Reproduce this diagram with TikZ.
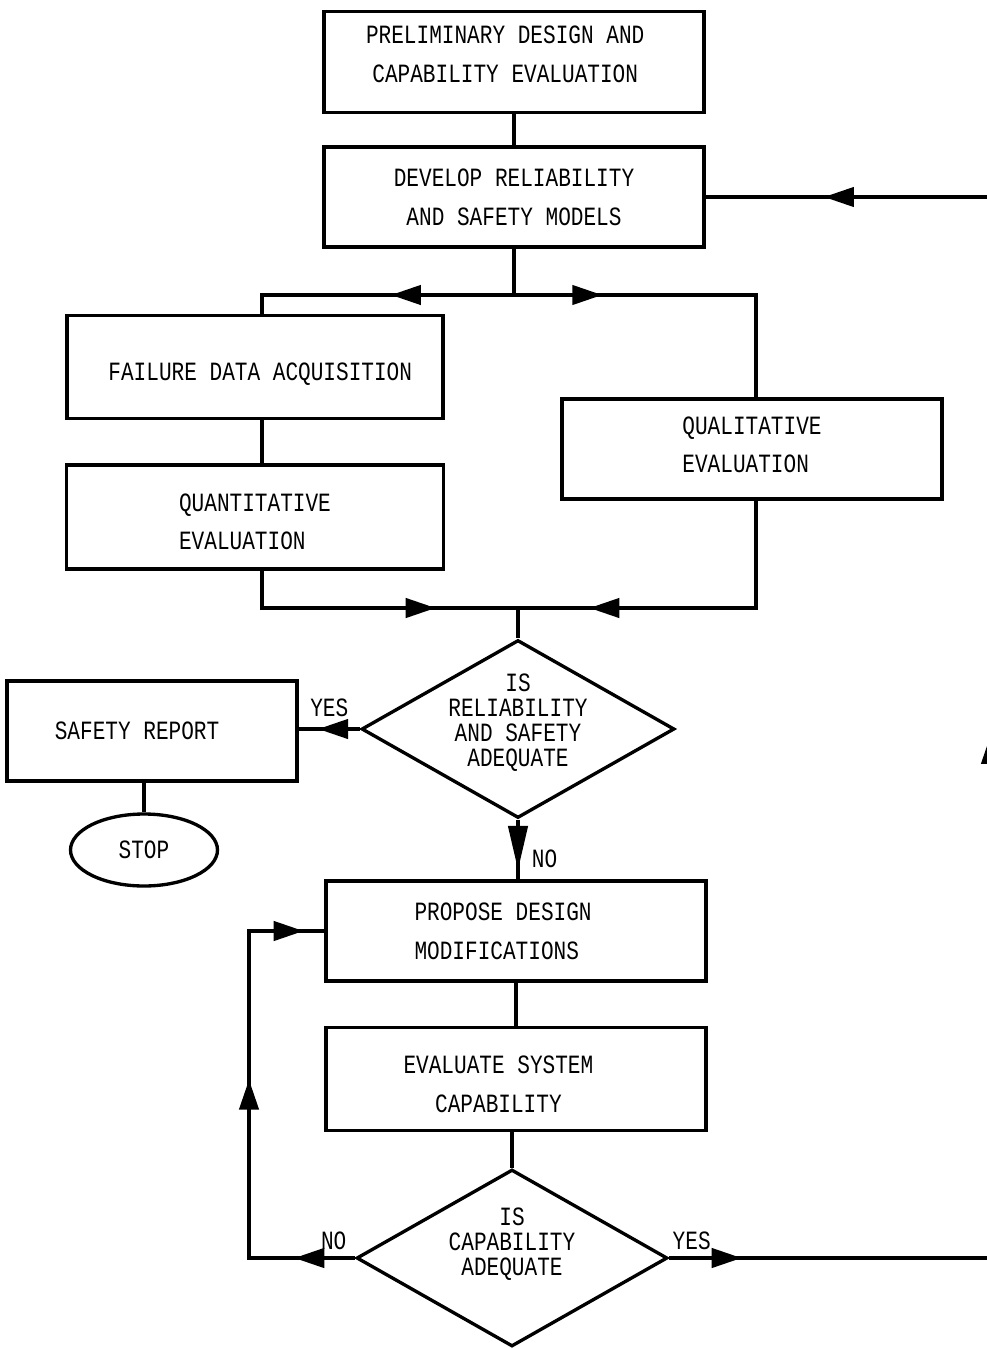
\documentclass[tikz,border=0pt]{standalone}
\usepackage{fontspec}
\newfontfamily\flowfont[FakeStretch=0.8]{Liberation Mono}
\usetikzlibrary{shapes.geometric}
\usetikzlibrary{arrows.meta}
\usetikzlibrary{decorations.markings}

\begin{document}
\begin{tikzpicture}[x=0.02cm, y=-0.02cm,
		b/.style = {rectangle, draw, line width=1.9pt, minimum width=7.6cm, minimum height=2cm, align=center, font=\flowfont\fontsize{15}{22}\selectfont},
		d/.style = {diamond, draw, line width=1.9pt, aspect=1.76, inner sep=-8pt, align=center, font=\flowfont\fontsize{15}{14.2}\selectfont},
		e/.style = {ellipse, draw, line width=1.9pt, font=\flowfont\fontsize{15}{22}\selectfont},
		lab/.style = {font=\flowfont\fontsize{15}{18}\selectfont, inner sep=2pt},
		r/.style = {line width=1.9pt},
		mk/.style = {postaction={decorate, decoration={markings, mark=at position #1 with {\arrow{Triangle[length=17pt, width=11pt]}}}}},
		mkl/.style = {postaction={decorate, decoration={markings, mark=at position #1 with {\arrow{Triangle[length=25pt, width=11pt]}}}}}
		]
		\useasboundingbox (0,0) rectangle (987,1349);
		
		%Nodes
		\node[b, minimum height=2.02cm, text depth=9pt]	(pre)	at	(514, 62)	{PRELIMINARY DESIGN AND\hspace*{10pt}\\CAPABILITY EVALUATION\hspace*{10pt}};
		\node[b]	(dev)	at	(514, 197)	{DEVELOP RELIABILITY\\AND SAFETY MODELS};
		\node[b, minimum width=7.52cm, minimum height=2.06cm, text height=18pt]	(fda)	at	(255, 367)	{\hspace*{6pt}FAILURE DATA ACQUISITION};
		\node[b, minimum width=7.54cm, minimum height=2.08cm, align=left]	(quan)	at	(255, 517)	{\rule{0pt}{15.6pt}QUANTITATIVE\\EVALUATION};
		\node[b, align=left, text depth=5pt]	(qual)	at	(752, 449)	{QUALITATIVE\\EVALUATION};
		\node[d, minimum width=6.26cm, minimum height=3.56cm, text depth=10pt]	(dia1)	at	(518, 729)	{IS\\RELIABILITY\\AND SAFETY\\ADEQUATE};
		\node[b, minimum width=5.8cm]	(rep)	at	(152, 731)	{SAFETY REPORT\hspace*{17pt}};
		\node[e, minimum width=2.94cm, minimum height=1.44cm]	(stop)	at	(144, 850)	{STOP};
		\node[b, align=left]	(prop)	at	(516, 931)	{PROPOSE DESIGN\hspace*{14.7pt}\\MODIFICATIONS};
		\node[b, minimum height=2.06cm]	(eval)	at	(516, 1079)	{\rule{0pt}{16pt}EVALUATE SYSTEM\hspace*{20pt}\\CAPABILITY\hspace*{20pt}};
		\node[d, minimum width=6.22cm, minimum height=3.54cm, text depth=19pt]	(dia2)	at	(512, 1258)	{IS\\CAPABILITY\\ADEQUATE};
		
		\coordinate	(split)	at	(514, 295);
		\coordinate	(lt)	at	(262, 295);
		\coordinate	(rt)	at	(756, 295);
		\coordinate	(merge)	at	(518, 608);
		\coordinate	(lb)	at	(262, 608);
		\coordinate	(rb)	at	(756, 608);
		\coordinate	(lno)	at	(249, 1258);
		\coordinate	(lup)	at	(249, 931);
		\coordinate	(ryes)	at	(991, 1258);
		\coordinate	(rtop)	at	(991, 197);
		
		%Lines
		\draw[r]	(pre.south)	--	(dev.north);
		\draw[r]	(dev.south)	--	(split);
		\draw[r, mk=0.454]	(split)	--	(lt)	--	(lt |- fda.north);
		\draw[r, mk=0.256]	(split)	--	(rt)	--	(rt |- qual.north);
		\draw[r]	(lt |- fda.south)	--	(lt |- quan.north);
		\draw[r, mk=0.719]	(lb |- quan.south)	--	(lb)	--	(merge);
		\draw[r, mk=0.793]	(rb |- qual.south)	--	(rb)	--	(merge);
		\draw[r]	(merge)	--	(dia1.north);
		\draw[r, mk=0.68]	(dia1.west)	--	node[lab, above=4pt]	{YES}	(dia1.west -| rep.east);
		\draw[r]	(stop.north |- rep.south)	--	(stop.north);
		\draw[r, mkl=0.84]	(dia1.south)	--	node[lab, right=5pt, pos=0.65]	{NO}	(dia1.south |- prop.north);
		\draw[r]	(prop.south)	--	(eval.north);
		\draw[r]	(dia2.north |- eval.south)	--	(dia2.north);
		\draw[r, mk=0.119, mk=0.559, mk=0.959]	(dia2.west)	--	node[lab, above=2pt, pos=0.2]	{NO}	(lno)	--	(lup)	--	(prop.west);
		\draw[r, mk=0.0434, mk=0.507, mk=0.929]	(dia2.east)	--	node[lab, above=2pt, pos=0.07]	{YES}	(ryes)	--	(rtop)	--	(dev.east);
	\end{tikzpicture}
\end{document}
